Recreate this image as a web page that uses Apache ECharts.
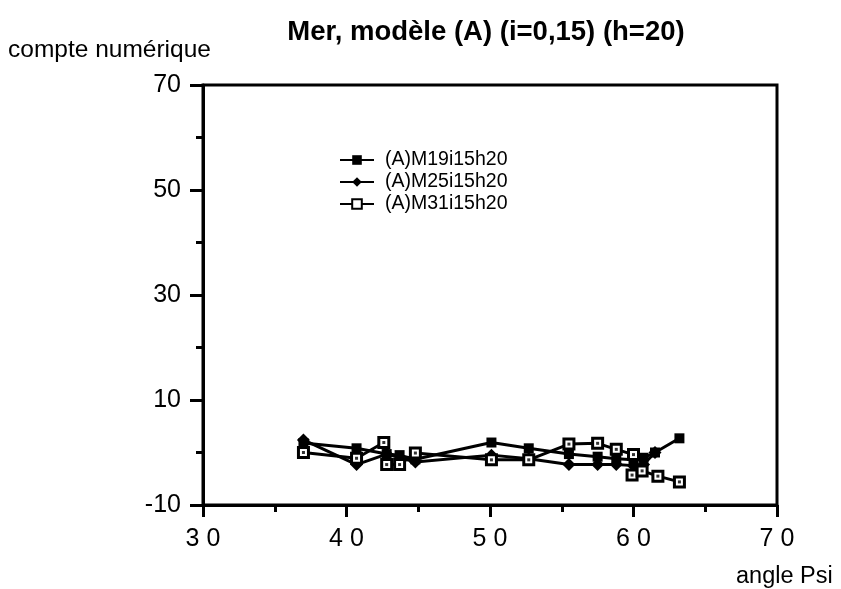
<!DOCTYPE html>
<html>
<head>
<meta charset="utf-8">
<script src="https://cdn.jsdelivr.net/npm/echarts@6/dist/echarts.min.js"></script>
<style>
  html, body { margin: 0; padding: 0; background: #fff; }
  #chart { width: 841px; height: 589px; }
</style>
</head>
<body>
<div id="chart"></div>
<script>
// valeurs (angle Psi, compte numérique)
var seriesNames = ['(A)M19i15h20', '(A)M25i15h20', '(A)M31i15h20'];

var m19X = [37, 40.7, 42.8, 43.7, 44.8, 50.1, 52.7, 55.5, 57.5, 58.8, 60.0, 60.7, 61.5, 63.2];
var m19Y = [1.8, 0.8, -0.3, -0.5, -1.3, 1.9, 0.8, -0.3, -0.8, -1.2, -1.4, -1.0, 0.0, 2.7];

var m25X = [37, 40.7, 42.8, 44.8, 50.1, 52.7, 55.5, 57.5, 58.8, 60.0, 60.7, 61.5];
var m25Y = [2.4, -2.3, -0.3, -1.8, -0.5, -1.2, -2.3, -2.3, -2.3, -2.5, -2.3, 0.0];

var m31X = [37, 40.7, 42.6, 42.8, 43.7, 44.8, 50.1, 52.7, 55.5, 57.5, 58.8, 60.0, 59.9, 60.6, 61.7, 63.2];
var m31Y = [0.0, -1.1, 1.9, -2.3, -2.3, -0.1, -1.4, -1.4, 1.6, 1.75, 0.6, -0.4, -4.3, -3.5, -4.5, -5.6];

var xTicks = [30, 40, 50, 60, 70];
var yTicks = [-10, 10, 30, 50, 70];

function pairs(xs, ys) {
  return xs.map(function (x, i) { return [x, ys[i]]; });
}

var font = '"Liberation Sans", Arial, sans-serif';
var chart = echarts.init(document.getElementById('chart'));

var option = {
  animation: false,
  color: ['#000'],
  title: {
    text: 'Mer, modèle (A) (i=0,15) (h=20)',
    left: 481,
    textAlign: 'center',
    top: 13,
    textStyle: { fontFamily: font, fontSize: 27.5, fontWeight: 'bold', color: '#000' }
  },
  graphic: [
    { type: 'text', left: 8, top: 38, style: { text: 'compte numérique', font: '24.5px ' + font, fill: '#000' } },
    { type: 'text', left: 736, top: 565, style: { text: 'angle Psi', font: '23.5px ' + font, fill: '#000' } }
  ],
  legend: {
    orient: 'vertical',
    left: 334,
    top: 144,
    itemWidth: 34,
    itemHeight: 12,
    itemGap: 0,
    data: seriesNames,
    textStyle: { fontFamily: font, fontSize: 19.5, color: '#000', padding: [0, 0, 0, 6], lineHeight: 22 }
  },
  grid: {
    left: 203, right: 64, top: 85, bottom: 84,
    show: true, borderColor: '#000', borderWidth: 3
  },
  xAxis: {
    type: 'value',
    min: 30, max: 70, interval: 10,
    axisLine: { onZero: false, lineStyle: { color: '#000', width: 3 } },
    axisTick: { length: 12, lineStyle: { color: '#000', width: 3 } },
    minorTick: { show: true, splitNumber: 2, length: 7, lineStyle: { color: '#000', width: 3 } },
    splitLine: { show: false },
    axisLabel: {
      margin: 22,
      fontFamily: font, fontSize: 25, color: '#000',
      formatter: function (v) { return xTicks.indexOf(v) >= 0 ? String(v).split('').join(' ') : ''; }
    }
  },
  yAxis: {
    type: 'value',
    min: -10, max: 70, interval: 20,
    axisLine: { onZero: false, lineStyle: { color: '#000', width: 3 } },
    axisTick: { length: 13, lineStyle: { color: '#000', width: 3 } },
    minorTick: { show: true, splitNumber: 2, length: 7, lineStyle: { color: '#000', width: 3 } },
    splitLine: { show: false },
    axisLabel: {
      margin: 22,
      fontFamily: font, fontSize: 25, color: '#000',
      formatter: function (v) { return yTicks.indexOf(v) >= 0 ? String(v) : ''; }
    }
  },
  series: [
    {
      name: seriesNames[0], type: 'line',
      data: pairs(m19X, m19Y),
      symbol: 'rect', symbolSize: 10,
      lineStyle: { color: '#000', width: 3 },
      itemStyle: { color: '#000' }
    },
    {
      name: seriesNames[1], type: 'line',
      data: pairs(m25X, m25Y),
      symbol: 'diamond', symbolSize: 13,
      lineStyle: { color: '#000', width: 3 },
      itemStyle: { color: '#000' }
    },
    {
      name: seriesNames[2], type: 'line',
      data: pairs(m31X, m31Y),
      symbol: 'rect', symbolSize: 10,
      lineStyle: { color: '#000', width: 3 },
      itemStyle: { color: '#fff', borderColor: '#000', borderWidth: 3 }
    },
    {
      // point central des carrés ouverts
      name: 'm31dot', type: 'scatter',
      data: pairs(m31X, m31Y),
      symbol: 'rect', symbolSize: 3,
      itemStyle: { color: '#000' },
      z: 5
    }
  ]
};

chart.setOption(option);
</script>
</body>
</html>
